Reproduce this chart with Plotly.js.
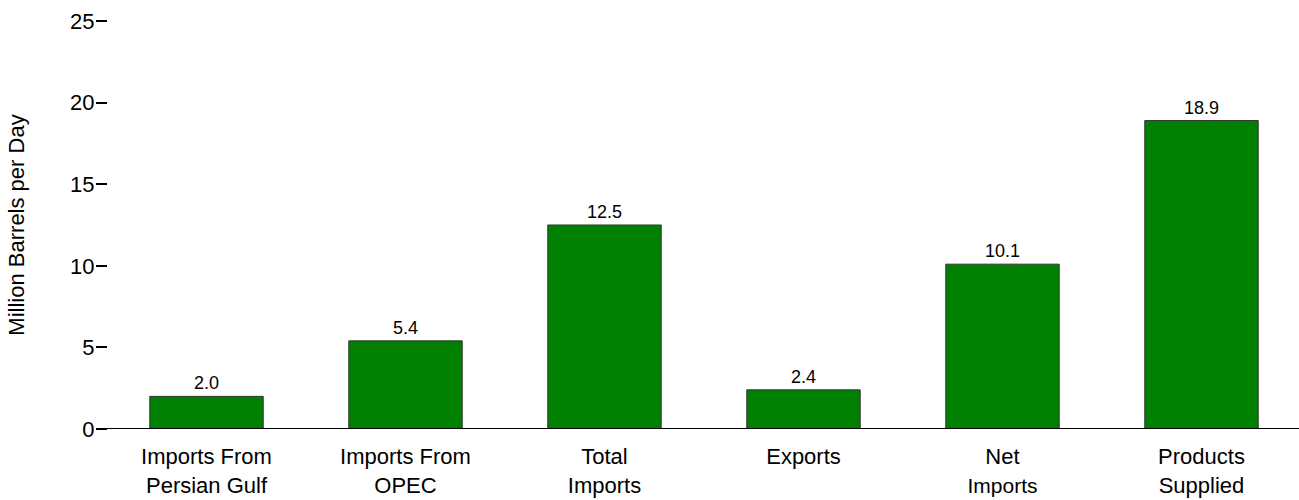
<!DOCTYPE html>
<html>
<head>
<meta charset="utf-8">
<script src="https://cdn.plot.ly/plotly-3.0.1.min.js"></script>
<style>html,body{margin:0;padding:0;background:#fff;}#chart{width:1299px;height:500px;}</style>
</head>
<body>
<div id="chart"></div>
<script>
const categories = ["Imports From<br>Persian Gulf", "Imports From<br>OPEC", "Total<br>Imports", "Exports", "Net<br><span style=\"font-size:21px\">Imports</span>", "Products<br>Supplied"];
const values = [2.0, 5.4, 12.5, 2.4, 10.1, 18.9];
const valueLabels = ["2.0", "5.4", "12.5", "2.4", "10.1", "18.9"];
const yTicks = [0, 5, 10, 15, 20, 25];

const trace = {
  type: 'bar',
  x: categories.map((_, i) => i),
  y: values,
  text: valueLabels,
  textposition: 'outside',
  cliponaxis: false,
  textfont: {family: 'Liberation Sans, Arial, sans-serif', size: 18, color: '#000'},
  marker: {color: '#008000', line: {color: '#333333', width: 1}},
  hoverinfo: 'none'
};

const layout = {
  width: 1299, height: 500,
  margin: {l: 108, r: 0, t: 21, b: 71},
  paper_bgcolor: '#fff', plot_bgcolor: '#fff',
  bargap: 0.43,
  showlegend: false,
  font: {family: 'Liberation Sans, Arial, sans-serif', size: 22, color: '#000'},
  xaxis: {
    range: [-0.495, 5.49],
    tickmode: 'array', tickvals: categories.map((_, i) => i), ticktext: categories,
    ticks: '', showgrid: false, zeroline: false, showline: false,
    ticklabelstandoff: 12,
    tickfont: {size: 22, color: '#000'}
  },
  yaxis: {
    range: [0, 25],
    tickmode: 'array', tickvals: yTicks, ticktext: yTicks.map(String),
    ticks: 'outside', ticklen: 11, tickwidth: 2, tickcolor: '#000',
    showgrid: false, zeroline: false, showline: false,
    ticklabelstandoff: -3,
    tickfont: {size: 22, color: '#000'},
    title: {text: 'Million Barrels per Day', font: {size: 22, color: '#000'}, standoff: 39}
  },
  shapes: [{
    type: 'line', xref: 'paper', yref: 'y', x0: -0.009, x1: 1, y0: 0, y1: 0,
    line: {color: '#000', width: 2}
  }]
};

Plotly.newPlot('chart', [trace], layout, {displayModeBar: false, staticPlot: true});
</script>
</body>
</html>
